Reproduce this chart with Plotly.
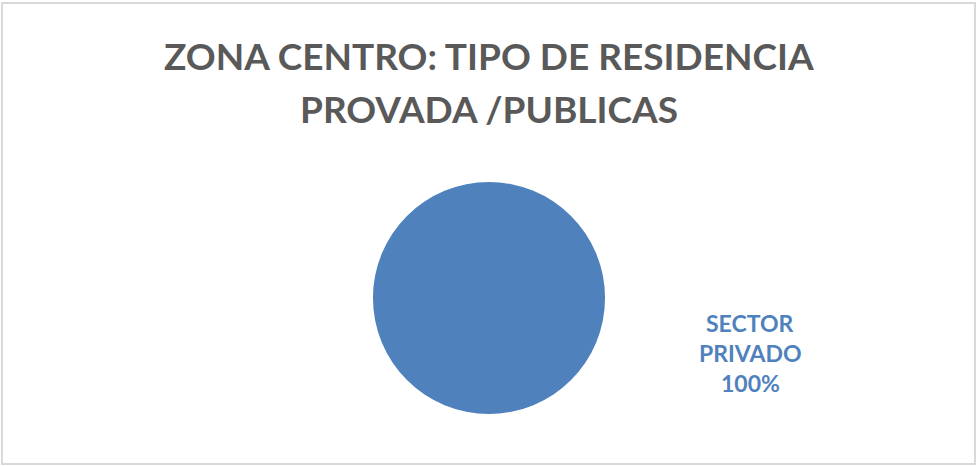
import plotly.graph_objects as go

labels = ["SECTOR PRIVADO"]
values = [100]
title_lines = ["ZONA CENTRO: TIPO DE RESIDENCIA", "PROVADA /PUBLICAS"]

W, H = 976, 466
total = sum(values)
label_lines = labels[0].split(" ") + [f"{values[0] / total * 100:.0f}%"]

fig = go.Figure(go.Pie(
    labels=labels,
    values=values,
    marker=dict(colors=["#4F81BD"], line=dict(width=0)),
    textinfo="none",
    hoverinfo="label+percent",
    sort=False,
    domain=dict(x=[373 / W, 605 / W], y=[1 - 414 / H, 1 - 182 / H]),
    showlegend=False,
))

annotations = []
# title lines
for i, line in enumerate(title_lines):
    annotations.append(dict(
        text=f"<b>{line}</b>",
        x=489 / W, y=1 - (55.5 + 52.5 * i) / H,
        xref="paper", yref="paper",
        xanchor="center", yanchor="middle",
        showarrow=False,
        font=dict(family="Lato", size=37, color="#595959"),
    ))
# data label lines
for i, line in enumerate(label_lines):
    annotations.append(dict(
        text=f"<b>{line}</b>",
        x=750 / W, y=1 - (323 + 30 * i) / H,
        xref="paper", yref="paper",
        xanchor="center", yanchor="middle",
        showarrow=False,
        font=dict(family="Lato", size=23, color="#4F81BD"),
    ))

fig.update_layout(
    width=W, height=H,
    margin=dict(l=0, r=0, t=0, b=0),
    paper_bgcolor="white",
    plot_bgcolor="white",
    annotations=annotations,
    shapes=[dict(
        type="rect", xref="paper", yref="paper",
        x0=2 / W, x1=975 / W, y0=1 - 464 / H, y1=1 - 3 / H,
        line=dict(color="#D9D9D9", width=2),
    )],
)

fig.write_html(
    "out.html",
    config={"displayModeBar": False},
    post_script="document.body.style.margin='0';document.body.style.padding='0';",
)
